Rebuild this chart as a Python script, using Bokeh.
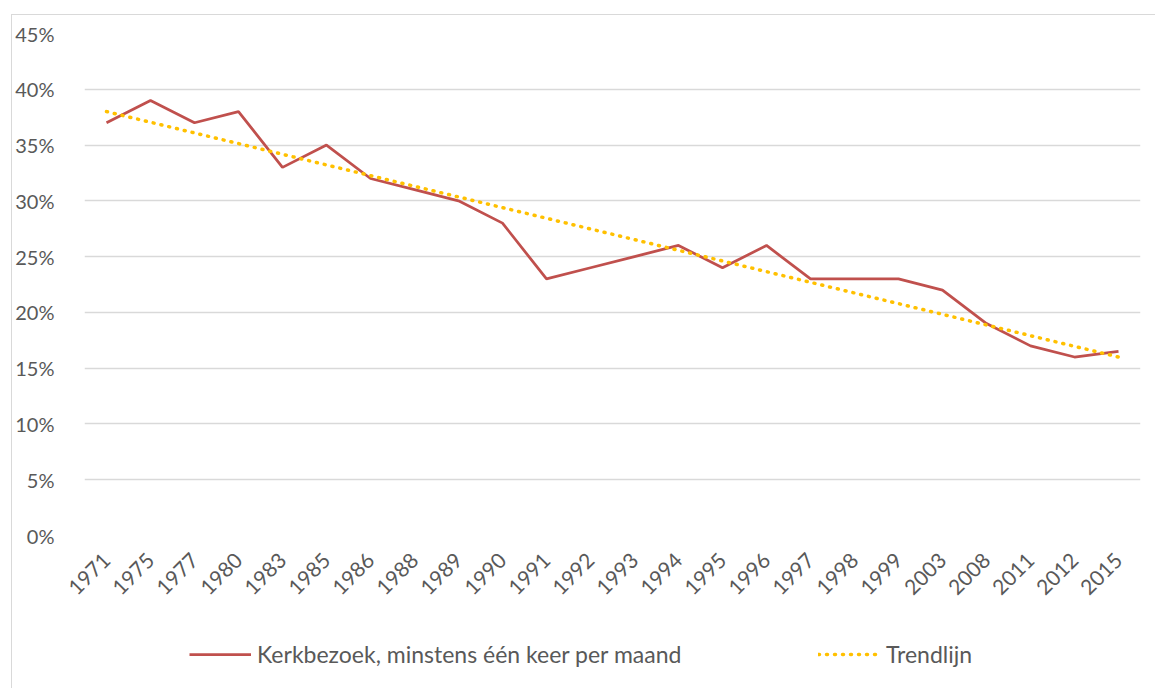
from bokeh.plotting import figure
from bokeh.models import (FactorRange, Range1d, FixedTicker, NumeralTickFormatter,
                          Legend, LegendItem, ColumnDataSource, Spacer)
from bokeh.layouts import column, row
from bokeh.embed import file_html
from bokeh.resources import INLINE
from math import pi

years = ["1971", "1975", "1977", "1980", "1983", "1985", "1986", "1988", "1989", "1990",
         "1991", "1992", "1993", "1994", "1995", "1996", "1997", "1998", "1999", "2003",
         "2008", "2011", "2012", "2015"]
kerkbezoek = [0.37, 0.39, 0.37, 0.38, 0.33, 0.35, 0.32, 0.31, 0.30, 0.28,
              0.23, 0.24, 0.25, 0.26, 0.24, 0.26, 0.23, 0.23, 0.23, 0.22,
              0.19, 0.17, 0.16, 0.165]
trend_years = ["1971", "2015"]
trend_values = [0.38, 0.16]
y_ticks = [0.0, 0.05, 0.10, 0.15, 0.20, 0.25, 0.30, 0.35, 0.40, 0.45]
series_names = ["Kerkbezoek, minstens één keer per maand", "Trendlijn"]

FONT = "Lato"
TXT = "#595959"
GRID = "#D9D9D9"
RED = "#C0504D"
GOLD = "#FFC000"

p = figure(x_range=FactorRange(*years), y_range=Range1d(0, 0.45),
           width=1144, height=600, output_backend="svg", toolbar_location=None,
           min_border_left=67, min_border_right=16, min_border_top=18, min_border_bottom=80)
p.styles = {"border-left": "1px solid #D9D9D9", "border-top": "1px solid #D9D9D9"}
p.outline_line_color = None
p.background_fill_color = "white"
p.border_fill_color = "white"

p.xgrid.grid_line_color = None
p.ygrid.grid_line_color = GRID
p.ygrid.grid_line_width = 1.5
p.yaxis.ticker = FixedTicker(ticks=y_ticks)
p.yaxis.formatter = NumeralTickFormatter(format="0%")

for ax in (p.xaxis[0], p.yaxis[0]):
    ax.axis_line_color = None
    ax.major_tick_line_color = None
    ax.minor_tick_line_color = None
    ax.major_label_text_font = FONT
    ax.major_label_text_color = TXT
p.yaxis.major_label_text_font_size = "20px"
p.xaxis.major_label_text_font_size = "21px"
p.yaxis.major_label_standoff = 24
p.xaxis.major_label_standoff = 15
p.xaxis.major_label_orientation = pi / 4

src = ColumnDataSource(dict(x=years, y=kerkbezoek))
p.line("x", "y", source=src, line_color=RED, line_width=2.75)
tsrc = ColumnDataSource(dict(x=trend_years, y=trend_values))
p.line("x", "y", source=tsrc, line_color=GOLD, line_width=3.5,
       line_dash="1 7", line_cap="round")

# legend strip below the chart (same series, drawn outside its visible y range)
q = figure(x_range=FactorRange(*years), y_range=Range1d(1, 2), width=1144, height=74,
           output_backend="svg", toolbar_location=None,
           min_border_left=0, min_border_right=0, min_border_top=0, min_border_bottom=0)
q.styles = {"border-left": "1px solid #D9D9D9"}
q.axis.visible = False
q.grid.visible = False
q.outline_line_color = None
q.background_fill_color = "white"
q.border_fill_color = "white"
lr1 = q.line("x", "y", source=src, line_color=RED, line_width=2.75)
lr2 = q.line("x", "y", source=tsrc, line_color=GOLD, line_width=3.5,
             line_dash="1 7", line_cap="round")

def mk_legend(name, r, x):
    return Legend(items=[LegendItem(label=name, renderers=[r])], location=(x, 20),
                  orientation="horizontal", glyph_width=62, glyph_height=20,
                  label_height=20, label_standoff=6, padding=0, margin=0,
                  border_line_color=None, background_fill_alpha=0,
                  label_text_font=FONT, label_text_font_size="23px", label_text_color=TXT)

q.add_layout(mk_legend(series_names[0], lr1, 105))
q.add_layout(mk_legend(series_names[1], lr2, 734))

root = column(Spacer(height=14), row(Spacer(width=11), column(p, q)))
open("out.html", "w").write(file_html(root, INLINE))
